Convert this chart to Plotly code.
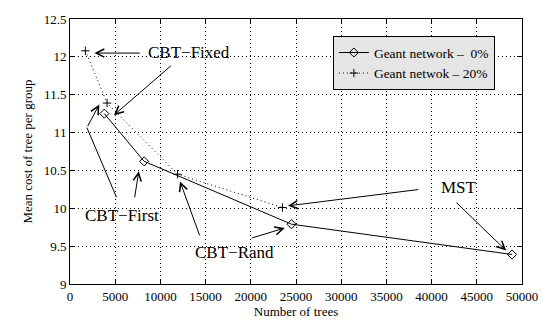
import plotly.graph_objects as go

# Data
x_0pct = [3800, 8200, 24500, 48900]
y_0pct = [11.25, 10.62, 9.79, 9.39]
x_20pct = [1700, 4100, 11900, 23500]
y_20pct = [12.08, 11.39, 10.45, 10.01]

name_0 = "Geant network \u2013  0%"
name_20 = "Geant netwok \u2013 20%"

x_ticks = [0, 5000, 10000, 15000, 20000, 25000, 30000, 35000, 40000, 45000, 50000]
y_ticks = [9, 9.5, 10, 10.5, 11, 11.5, 12, 12.5]

x_title = "Number of trees"
y_title = "Mean cost of tree per group"

# Labels: (text, x, y)
labels = [
    ("CBT\u2212Fixed", 13200, 12.06),
    ("CBT\u2212First", 5700, 9.91),
    ("CBT\u2212Rand", 18150, 9.41),
    ("MST", 43000, 10.27),
]
# Arrows: (tail_x, tail_y, tip_x, tip_y, head)
arrows = [
    (7880, 12.05, 2700, 12.05, 5),
    (11340, 11.90, 4860, 11.23, 5),
    (5216, 10.125, 1868, 11.066, 0),
    (1868, 11.066, 3240, 11.37, 5),
    (7127, 10.125, 7613, 10.49, 5),
    (14395, 9.623, 12170, 10.355, 5),
    (19978, 9.602, 23758, 9.74, 5),
    (38693, 10.25, 24114, 10.032, 5),
    (42581, 10.095, 48240, 9.442, 5),
]

FONT = "'Liberation Serif', 'Times New Roman', Times, serif"

fig = go.Figure()
fig.add_trace(go.Scatter(
    x=x_0pct, y=y_0pct, name=name_0, mode="lines+markers",
    line=dict(color="black", width=1),
    marker=dict(symbol="diamond-open", size=7, color="black", line=dict(width=1)),
))
fig.add_trace(go.Scatter(
    x=x_20pct, y=y_20pct, name=name_20, mode="lines+markers",
    line=dict(color="black", width=1, dash="1px,3px"),
    marker=dict(symbol="cross-thin-open", size=6, color="black", line=dict(width=1, color="black")),
))

annotations = []
for t, x, y in labels:
    annotations.append(dict(x=x, y=y, xref="x", yref="y", text=t, showarrow=False,
                            font=dict(family=FONT, size=17, color="black")))
for ax, ay, x, y, head in arrows:
    annotations.append(dict(x=x, y=y, ax=ax, ay=ay, xref="x", yref="y", axref="x", ayref="y",
                            text="", showarrow=True, arrowhead=head, arrowsize=1.6,
                            arrowwidth=1, arrowcolor="black", standoff=0, startstandoff=0))

axis_common = dict(
    showline=True, linecolor="black", linewidth=1, mirror="ticks",
    ticks="inside", ticklen=5, tickcolor="black",
    showgrid=True, gridcolor="black", gridwidth=1, griddash="1px,3px",
    zeroline=False, tickfont=dict(family=FONT, size=13, color="black"),
)

fig.update_layout(
    width=550, height=329,
    margin=dict(l=70, r=17, t=14, b=36),
    paper_bgcolor="white", plot_bgcolor="white",
    font=dict(family=FONT, color="black"),
    xaxis=dict(range=[0, 50000], tickvals=x_ticks, ticktext=[str(v) for v in x_ticks],
               title=dict(text=x_title, font=dict(family=FONT, size=13), standoff=4),
               **axis_common),
    yaxis=dict(range=[9, 12.5], tickvals=y_ticks, ticktext=[f"{v:g}" for v in y_ticks],
               title=dict(text=y_title, font=dict(family=FONT, size=13), standoff=8),
               **axis_common),
    legend=dict(x=0.94, y=0.935, xanchor="right", yanchor="top",
                bgcolor="#e5e5e5", bordercolor="black", borderwidth=1,
                font=dict(family=FONT, size=13.5, color="black"),
                tracegroupgap=0, itemwidth=30),
    annotations=annotations,
    showlegend=True,
)

fig.write_html("out.html")
